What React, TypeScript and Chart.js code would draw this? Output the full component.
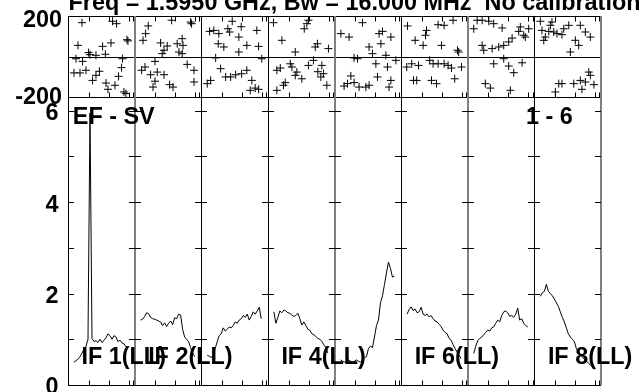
import React, { useEffect, useRef } from 'react';
import { Chart, registerables } from 'chart.js';

Chart.register(...registerables);

// ---------- data ----------
const TITLE = 'Freq = 1.5950 GHz, Bw = 16.000 MHz  No calibration';
const BASELINE_LABEL = 'EF - SV';
const PAGE_LABEL = '1 - 6';

const CHANNELS = [3, 4, 5, 6, 7, 8, 9, 10, 11, 12, 13, 14, 15, 16, 17, 18, 19, 20, 21, 22, 23, 24, 25, 26, 27, 28, 29, 30];

const AMP_IF1 = [0.50, 0.53, 0.57, 0.62, 0.70, 0.78, 0.85, 1.00, 5.95, 1.02, 0.95, 0.97, 0.93, 1.00, 0.93, 0.98, 1.03, 1.12, 1.08, 1.00, 1.08, 1.05, 0.95, 0.98, 0.92, 0.90, 0.84, 0.82];
const AMP_IF2 = [1.42, 1.44, 1.50, 1.58, 1.56, 1.48, 1.45, 1.44, 1.42, 1.40, 1.38, 1.30, 1.36, 1.28, 1.35, 1.40, 1.32, 1.47, 1.45, 1.55, 1.53, 1.22, 1.05, 1.00, 0.95, 0.82, 0.70, 0.62];
const AMP_IF3 = [0.65, 0.63, 0.60, 0.66, 0.80, 0.95, 1.08, 1.12, 1.25, 1.18, 1.22, 1.27, 1.25, 1.30, 1.38, 1.35, 1.42, 1.45, 1.52, 1.48, 1.55, 1.42, 1.50, 1.60, 1.55, 1.62, 1.70, 1.45];
const AMP_IF4 = [1.60, 1.35, 1.48, 1.62, 1.58, 1.64, 1.62, 1.58, 1.57, 1.53, 1.50, 1.52, 1.57, 1.45, 1.31, 1.38, 1.30, 1.22, 1.20, 1.12, 1.10, 1.06, 1.02, 1.00, 0.95, 0.88, 0.82, 0.70];
const AMP_IF5 = [0.55, 0.52, 0.50, 0.52, 0.55, 0.52, 0.50, 0.52, 0.55, 0.52, 0.50, 0.55, 0.60, 0.62, 0.80, 0.85, 0.82, 1.05, 1.30, 1.42, 1.80, 1.95, 2.20, 2.45, 2.69, 2.55, 2.36, 2.38];
const AMP_IF6 = [1.55, 1.65, 1.71, 1.63, 1.66, 1.58, 1.60, 1.70, 1.55, 1.52, 1.55, 1.49, 1.52, 1.45, 1.40, 1.38, 1.33, 1.28, 1.20, 1.15, 1.12, 1.02, 0.98, 0.88, 0.80, 0.72, 0.65, 0.58];
const AMP_IF7 = [0.69, 0.85, 0.97, 1.02, 1.05, 1.10, 1.15, 1.20, 1.18, 1.25, 1.27, 1.35, 1.42, 1.38, 1.52, 1.60, 1.62, 1.58, 1.50, 1.52, 1.48, 1.55, 1.68, 1.42, 1.45, 1.35, 1.30, 1.27];
const AMP_IF8 = [1.94, 2.02, 2.05, 2.20, 2.05, 2.00, 1.95, 1.88, 1.80, 1.72, 1.60, 1.48, 1.38, 1.25, 1.12, 1.05, 1.00, 0.95, 0.80, 0.72, 0.66, 0.62, 0.56, 0.52, 0.48, 0.44, 0.40, 0.34];

// [channel, phase in degrees]
const PHASE_IF1 = [[7, 167], [22.3, 174], [24.3, 162], [29.5, 83], [30, 77], [5, 55], [10.3, 19], [11, 9], [14, 6], [17.3, 50], [21.5, 67], [18.7, 11], [4, -11], [7.3, -24], [3, -81], [6, -81], [9, -68], [15.7, -73], [14, -93], [12.3, -118], [27.3, -11], [26.8, -55], [25.3, -98], [19, -131], [23.5, -142], [20, -162], [28, -175], [29, -183]];
const PHASE_IF2 = [[6.8, 151], [18.5, 179], [28, 170], [28.5, 162], [5.5, 113], [4.2, 80], [13, 67], [16.3, 52], [14.7, 31], [13.8, 14], [21.3, 63], [23.8, 88], [24.2, 55], [22.2, 22], [23.8, 14], [10.2, -24], [5.2, -52], [3.5, -68], [11.3, -77], [8, -90], [14.7, -90], [10.2, -122], [26.3, -39], [29.7, -68], [29.7, -126], [17.5, -139], [19.2, -151], [9.2, -151]];
const PHASE_IF3 = [[4.2, 124], [6.3, 129], [8.8, 113], [15.5, 174], [13.3, 137], [14.2, 121], [18.8, 96], [20, 147], [8.5, 63], [11.3, 47], [18.8, 22], [7.2, -7], [9.7, -60], [14.7, -101], [17.2, -90], [20.2, -85], [4.7, -118], [3, -134], [12.2, -101], [27.8, 129], [22.8, 55], [28.7, 50], [30.3, -11], [22.8, -68], [25.3, -118], [24.5, -167], [27, -156], [28.7, -162]];
const PHASE_IF4 = [[2.8, 167], [20.3, 179], [19.5, 162], [18.2, 137], [7, 80], [13.7, 22], [23.7, 47], [24.8, 63], [30.3, 39], [4.5, -68], [6.2, -57], [11.2, -36], [12, -52], [14.5, -77], [13.7, -93], [17, -110], [20.3, -44], [22.8, -19], [27, -44], [27.8, -85], [26.5, -101], [25, -75], [8.7, -129], [7.8, -142], [4.5, -167], [29.5, -142]];
const PHASE_IF5 = [[3.2, 113], [7.3, 96], [14, 167], [22.3, 113], [24, 124], [28.2, 96], [23.2, 63], [17.3, 47], [19, 14], [25.7, 6], [9.8, -7], [11.5, -11], [20.7, -36], [26.5, -52], [30.7, -19], [21.5, -101], [8.2, -96], [6.5, -134], [4.8, -146], [9.8, -129], [12.3, -151], [15.7, -151], [17.3, -142], [28.2, -118], [27.3, -151]];
const PHASE_IF6 = [[3.2, 151], [7, 80], [2.8, -52], [5.3, -36], [8.7, -44], [6.2, -118], [7.8, -118], [12.7, 129], [12.2, 105], [11, 55], [18.5, 157], [21.5, 154], [26, 179], [20.2, 55], [28.2, 31], [28.8, 22], [14.3, -19], [16, -36], [18.5, -36], [21.5, -36], [23.5, -44], [25.2, -57], [30.2, -52], [15.2, -118], [17.7, -134], [26.8, -110]];
const PHASE_IF7 = [[4.7, 179], [7.2, 179], [10.5, 174], [13, 162], [17.2, 141], [3, 137], [26.3, 146], [30.5, 137], [25.5, 124], [28, 105], [28.8, 96], [22.2, 91], [20.5, 72], [18, 55], [15.5, 47], [12.2, 39], [7.2, 55], [8, 31], [13, -36], [18, -11], [20.5, -47], [23, -80], [27.2, -31], [8.8, -134], [11.3, -156], [21.3, -167]];
const PHASE_IF8 = [[3, 174], [8.8, 170], [8, 154], [3.8, 129], [7.2, 124], [9.7, 121], [11.3, 113], [13.8, 108], [14.7, 137], [17.2, 154], [5.5, 96], [4.7, 80], [23, 154], [25.5, 121], [28, 96], [20.5, 80], [22.2, 55], [18, 22], [27.2, -77], [28, -93], [23, -118], [25.5, -126], [29.8, -139], [19.7, -134], [13.8, -134], [12.2, -134], [23.8, -162], [10.5, -175]];

const IF_LABELS = ['IF 1(LL)', 'IF 2(LL)', '', 'IF 4(LL)', '', 'IF 6(LL)', '', 'IF 8(LL)'];

const PHASE_TICK_LABELS = [200, -200];
const AMP_TICK_LABELS = [0, 2, 4, 6];
const AMP_MINOR_TICKS = [1, 2, 3, 4, 5, 6];
const CHANNEL_TICKS = [10.35, 20.35, 30.35, 32.4];

const PANEL = 100 / 3; // channel units per IF panel
const AMP_IFS = [AMP_IF1, AMP_IF2, AMP_IF3, AMP_IF4, AMP_IF5, AMP_IF6, AMP_IF7, AMP_IF8];
const PHASE_IFS = [PHASE_IF1, PHASE_IF2, PHASE_IF3, PHASE_IF4, PHASE_IF5, PHASE_IF6, PHASE_IF7, PHASE_IF8];
const GREY_SEPARATORS = [1, 4, 6, 8];

const FONT = '"Liberation Sans", Arial, Helvetica, sans-serif';
const FS = 23.4;

function drawText(ctx: CanvasRenderingContext2D, s: string, x: number, y: number, align: CanvasTextAlign) {
  ctx.save();
  ctx.font = `bold ${FS}px ${FONT}`;
  ctx.fillStyle = '#000';
  ctx.textAlign = align;
  ctx.textBaseline = 'alphabetic';
  ctx.fillText(s, x, y);
  ctx.restore();
}

const decorPlugin = {
  id: 'possmDecor',
  afterDatasetsDraw(chart: any) {
    const { ctx, chartArea: a, scales } = chart;
    const xs = scales.x, yp = scales.yPhase, ya = scales.yAmp;
    const r = (v: number) => Math.round(v) + 0.5;
    ctx.save();
    ctx.strokeStyle = '#000';
    ctx.lineWidth = 1;
    const line = (x1: number, y1: number, x2: number, y2: number) => {
      ctx.beginPath();
      ctx.moveTo(x1, y1);
      ctx.lineTo(x2, y2);
      ctx.stroke();
    };
    const pTop = yp.getPixelForValue(200);
    const pBot = yp.getPixelForValue(-200);
    const pZero = yp.getPixelForValue(0);
    const aBot = ya.getPixelForValue(0);
    const left = xs.getPixelForValue(0);
    // frame
    line(r(left), a.top, r(left), a.bottom);
    line(a.left, r(pTop), a.right, r(pTop));
    line(a.left, r(pBot), a.right, r(pBot));
    line(a.left, r(pZero), a.right, r(pZero));
    line(a.left, r(aBot), a.right, r(aBot));
    // separators
    for (let k = 1; k <= 8; k++) {
      const x = xs.getPixelForValue(k * PANEL);
      ctx.save();
      if (GREY_SEPARATORS.includes(k)) {
        ctx.strokeStyle = '#808080';
        ctx.lineWidth = 2;
        line(Math.round(x), a.top, Math.round(x), a.bottom);
      } else {
        line(r(x), a.top, r(x), a.bottom);
      }
      ctx.restore();
    }
    // amplitude ticks at each panel edge
    for (let k = 0; k <= 8; k++) {
      const x = Math.round(xs.getPixelForValue(k * PANEL));
      for (const v of AMP_MINOR_TICKS) {
        const y = r(ya.getPixelForValue(v));
        const x1 = k === 0 ? x : x - 6;
        const x2 = k === 8 ? x : x + 6;
        line(x1, y, x2, y);
      }
    }
    // channel ticks
    for (let k = 0; k < 8; k++) {
      for (const t of CHANNEL_TICKS) {
        const x = r(xs.getPixelForValue(k * PANEL + t));
        line(x, r(pTop), x, r(pTop) + 5);
        line(x, r(pBot), x, r(pBot) - 5);
        line(x, r(aBot), x, r(aBot) - 5);
      }
    }
    ctx.restore();

    // texts
    drawText(ctx, TITLE, left + 0.5, 10, 'left');
    for (const v of PHASE_TICK_LABELS) {
      const y = yp.getPixelForValue(v) + (v > 0 ? 11 : 7);
      drawText(ctx, String(v), 62, y, 'right');
    }
    for (const v of AMP_TICK_LABELS) {
      drawText(ctx, String(v), 58.5, ya.getPixelForValue(v) + 9.4, 'right');
    }
    drawText(ctx, BASELINE_LABEL, left + 4.8, 123.5, 'left');
    drawText(ctx, PAGE_LABEL, 526, 123.5, 'left');
    IF_LABELS.forEach((s, k) => {
      if (!s) return;
      drawText(ctx, s, xs.getPixelForValue(k * PANEL) + 13.5, 363.5, 'left');
    });
  },
};

export default function App() {
  const ref = useRef<HTMLCanvasElement | null>(null);
  useEffect(() => {
    if (!ref.current) return;
    const datasets: any[] = [];
    AMP_IFS.forEach((vals, k) => {
      datasets.push({
        label: `amp ${k + 1}`,
        data: CHANNELS.map((c, i) => ({ x: k * PANEL + c, y: vals[i] })),
        yAxisID: 'yAmp',
        showLine: true,
        borderColor: '#000',
        borderWidth: 1,
        pointRadius: 0,
        tension: 0,
      });
    });
    PHASE_IFS.forEach((pts, k) => {
      datasets.push({
        label: `phase ${k + 1}`,
        data: pts.map(([c, v]) => ({ x: k * PANEL + c, y: v })),
        yAxisID: 'yPhase',
        showLine: false,
        pointStyle: 'cross',
        pointRadius: 4,
        borderColor: '#000',
        borderWidth: 1,
      });
    });
    const chart = new Chart(ref.current, {
      type: 'scatter',
      data: { datasets },
      options: {
        animation: false,
        responsive: false,
        devicePixelRatio: 1,
        layout: { padding: { left: 68, right: 38, top: 16, bottom: 7 } },
        plugins: { legend: { display: false }, tooltip: { enabled: false } },
        scales: {
          x: { type: 'linear', min: 0, max: 8 * PANEL, display: false },
          yPhase: { type: 'linear', min: -200, max: 200, display: false, stack: 'v', stackWeight: 81, weight: 1 },
          yAmp: { type: 'linear', min: 0, max: 6.3, display: false, stack: 'v', stackWeight: 288, weight: 0 },
        },
      },
      plugins: [decorPlugin],
    });
    return () => chart.destroy();
  }, []);
  return (
    <canvas
      ref={ref}
      width={639}
      height={392}
      style={{ position: 'fixed', left: 0, top: 0, width: 639, height: 392, background: '#fff' }}
    />
  );
}
